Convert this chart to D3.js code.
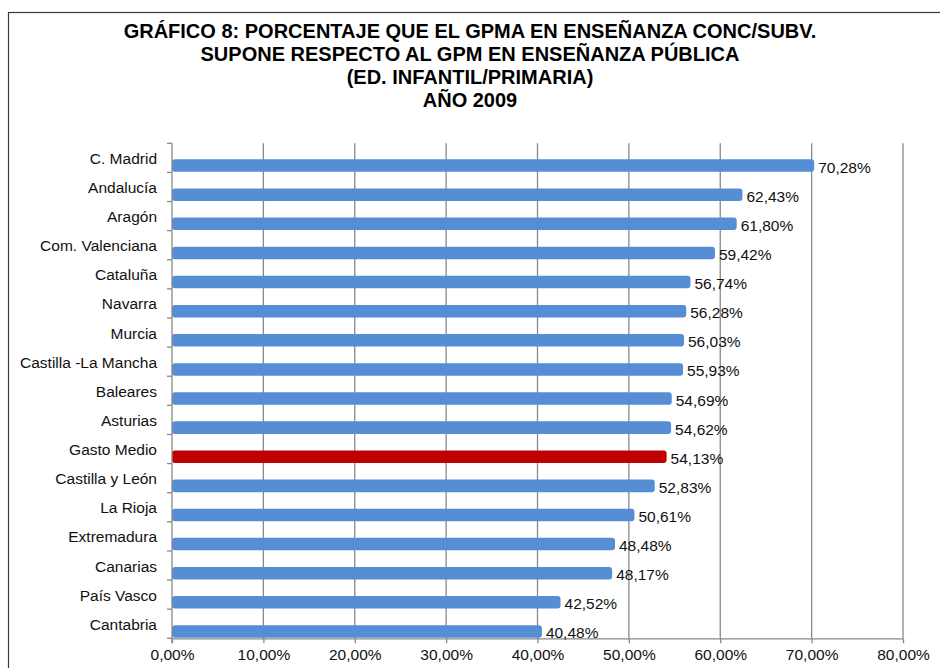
<!DOCTYPE html>
<html>
<head>
<meta charset="utf-8">
<script src="https://cdn.jsdelivr.net/npm/d3@7"></script>
<style>
  html, body { margin: 0; padding: 0; background: #fff; }
  svg { display: block; }
</style>
</head>
<body>
<svg id="chart" width="940" height="668"></svg>
<script>
// ---- data ----
const titleLines = [
  "GRÁFICO 8: PORCENTAJE QUE EL GPMA EN ENSEÑANZA CONC/SUBV.",
  "SUPONE RESPECTO AL GPM EN ENSEÑANZA PÚBLICA",
  "(ED. INFANTIL/PRIMARIA)",
  "AÑO 2009"
];
const categories = [
  "C. Madrid", "Andalucía", "Aragón", "Com. Valenciana", "Cataluña", "Navarra",
  "Murcia", "Castilla -La Mancha", "Baleares", "Asturias", "Gasto Medio",
  "Castilla y León", "La Rioja", "Extremadura", "Canarias", "País Vasco", "Cantabria"
];
const values = [
  70.28, 62.43, 61.80, 59.42, 56.74, 56.28,
  56.03, 55.93, 54.69, 54.62, 54.13,
  52.83, 50.61, 48.48, 48.17, 42.52, 40.48
];
const highlight = "Gasto Medio";
const xTicks = [0, 10, 20, 30, 40, 50, 60, 70, 80];

// ---- layout ----
const svg = d3.select("#chart");
const pL = 172, pR = 903, pT = 143.3, pB = 638.3;
const fmt = v => v.toFixed(2).replace(".", ",") + "%";
const FONT = "Liberation Sans, Arial, sans-serif";

// outer frame
svg.append("rect")
  .attr("x", 8.5).attr("y", 12.5)
  .attr("width", 960).attr("height", 700)
  .attr("fill", "none").attr("stroke", "#3a3a3a").attr("stroke-width", 1.2);

// title
const title = svg.append("text")
  .attr("text-anchor", "middle")
  .attr("font-family", FONT)
  .attr("font-weight", "bold")
  .attr("font-size", 20)
  .attr("fill", "#000");
titleLines.forEach((t, i) => {
  title.append("tspan").attr("x", 470).attr("y", 38 + i * 23).text(t);
});

const x = d3.scaleLinear().domain([0, 80]).range([pL, pR]);
const y = d3.scaleBand().domain(categories).range([pT, pB]).padding(0);
const bw = y.bandwidth();

// gridlines
svg.append("g").selectAll("line").data(xTicks.slice(1)).join("line")
  .attr("x1", d => x(d)).attr("x2", d => x(d))
  .attr("y1", pT).attr("y2", pB)
  .attr("stroke", "#888888").attr("stroke-width", 1.3);

// bars
svg.append("g").selectAll("rect").data(categories).join("rect")
  .attr("x", x(0))
  .attr("y", d => y(d) + bw * 0.55)
  .attr("width", (d, i) => x(values[i]) - x(0))
  .attr("height", bw * 0.43)
  .attr("rx", 3).attr("ry", 3)
  .attr("fill", d => d === highlight ? "#C00000" : "#558ED5");

// left axis
svg.append("line").attr("x1", pL).attr("x2", pL).attr("y1", pT).attr("y2", pB + 5)
  .attr("stroke", "#888888").attr("stroke-width", 1.3);
const bounds = categories.map(c => y(c)).concat([pB]);
svg.append("g").selectAll("line").data(bounds).join("line")
  .attr("x1", pL - 5).attr("x2", pL).attr("y1", d => d).attr("y2", d => d)
  .attr("stroke", "#888888").attr("stroke-width", 1.3);

// category labels
svg.append("g").selectAll("text").data(categories).join("text")
  .attr("x", 157)
  .attr("y", d => y(d) + bw / 2 + 6)
  .attr("text-anchor", "end")
  .attr("font-family", FONT)
  .attr("font-size", 15.5)
  .attr("fill", "#111")
  .text(d => d);

// bottom axis
const xAxis = d3.axisBottom(x).tickValues(xTicks).tickSize(5).tickPadding(6)
  .tickFormat(d => d.toFixed(2).replace(".", ",") + "%");
const gx = svg.append("g").attr("transform", `translate(0,${pB})`).call(xAxis);
gx.select(".domain").attr("stroke", "#888888").attr("stroke-width", 1.3)
  .attr("d", `M${pL},0.5H${pR}`);
gx.selectAll(".tick line").attr("stroke", "#888888").attr("stroke-width", 1.3);
gx.selectAll(".tick text")
  .attr("font-family", FONT)
  .attr("font-size", 15.5).attr("fill", "#111");

// value labels
svg.append("g").selectAll("text").data(categories).join("text")
  .attr("x", (d, i) => x(values[i]) + 4)
  .attr("y", d => y(d) + bw * 0.55 + bw * 0.215 + 7)
  .attr("font-family", FONT)
  .attr("font-size", 15.5)
  .attr("fill", "#111")
  .text((d, i) => fmt(values[i]));
</script>
</body>
</html>
